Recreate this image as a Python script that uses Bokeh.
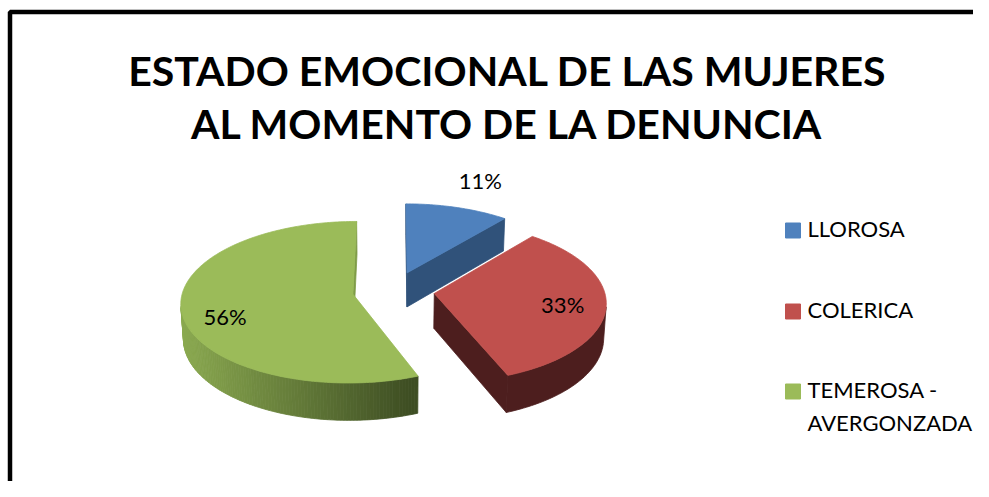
import numpy as np
from bokeh.plotting import figure
from bokeh.models import Range1d, ColumnDataSource
from bokeh.embed import file_html
from bokeh.resources import INLINE
from bokeh.core.properties import value

# ---------------- data ----------------
title_lines = ["ESTADO EMOCIONAL DE LAS MUJERES", "AL MOMENTO DE LA DENUNCIA"]
categories = ["LLOROSA", "COLERICA", "TEMEROSA - AVERGONZADA"]
percent = [11, 33, 56]
top_colors = ["#4F81BD", "#C0504D", "#9BBB59"]
side_colors = ["#30527A", "#4D1E1E", "#7F9C48"]
green_light = np.array([139, 170, 80])
green_dark = np.array([62, 78, 35])

# ---------------- 3D projection parameters ----------------
A = 170.0                 # pixels per radius at pie centre depth
S = 0.466                 # sin(elevation)
C = np.sqrt(1 - S * S)
Q = 0.10                  # perspective strength
DIST = C / Q
F = A * DIST
H = 0.233                 # thickness (in radii)
EXPL = 0.242              # explosion (in radii)
OX, OY = 393.0, 290.0
cam = np.array([0.0, DIST * S, DIST * C])


def proj(X, Y, Z):
    depth = DIST - Y * S - Z * C
    up = Y * C - Z * S
    return OX + F * X / depth, OY - F * up / depth


def d3(t):
    return np.array([np.sin(t), 0.0, -np.cos(t)])


def hexcol(c):
    return "#%02x%02x%02x" % tuple(int(round(v)) for v in c)


fr = np.array(percent, dtype=float) / sum(percent)
edges = np.concatenate([[0.0], np.cumsum(fr)]) * 2 * np.pi

W, HGT = 973, 481
p = figure(width=W, height=HGT, x_range=Range1d(0, W), y_range=Range1d(HGT, 0),
           output_backend="svg", toolbar_location=None, min_border=0)
p.axis.visible = False
p.grid.visible = False
p.outline_line_color = None
p.background_fill_color = "white"
p.border_fill_color = "white"

# frame of the chart area
p.line(x=[9.5, 9.5, 1000], y=[520, 11.5, 11.5], line_color="black", line_width=4.5)

slices = []
for i in range(len(percent)):
    t1, t2 = edges[i], edges[i + 1]
    m = 0.5 * (t1 + t2)
    cen = EXPL * d3(m)
    slices.append((cen[2], i, t1, t2, cen))
slices.sort()

DOWN = np.array([0, -H, 0])
xs_all, ys_all, fc_all = [], [], []


def add_poly(poly, colr):
    pts = [proj(*v) for v in poly]
    xs_all.append([pt[0] for pt in pts])
    ys_all.append([pt[1] for pt in pts])
    fc_all.append(colr)


for _, i, t1, t2, cen in slices:
    n = max(6, int(np.degrees(t2 - t1)))
    th = np.linspace(t1, t2, n)
    top = [cen + d3(t) for t in th]
    bot = [cen + d3(t) + DOWN for t in th]
    # radial faces
    for t, sgn in ((t1, -1), (t2, 1)):
        nrm = sgn * np.array([np.cos(t), 0.0, np.sin(t)])
        pmid = cen + 0.5 * d3(t) + DOWN / 2
        if np.dot(nrm, cam - pmid) > 0:
            add_poly([cen, cen + d3(t), cen + d3(t) + DOWN, cen + DOWN], side_colors[i])
    # outer rim: visible runs
    vis = []
    for j in range(n - 1):
        tm = 0.5 * (th[j] + th[j + 1])
        pmid = cen + d3(tm) + DOWN / 2
        vis.append(np.dot(d3(tm), cam - pmid) > 0)
    if i == 2:
        for j in range(n - 1):
            if vis[j]:
                tm = 0.5 * (th[j] + th[j + 1])
                sx = proj(*(cen + d3(tm)))[0]
                k = np.clip((sx - 177) / (409 - 177), 0, 1)
                add_poly([top[j], top[j + 1], bot[j + 1], bot[j]],
                         hexcol(green_light * (1 - k) + green_dark * k))
    else:
        idx = [j for j in range(n - 1) if vis[j]]
        if idx:
            j0, j1 = idx[0], idx[-1] + 1
            add_poly(top[j0:j1 + 1] + bot[j0:j1 + 1][::-1], side_colors[i])
    add_poly([cen] + top, top_colors[i])

src = ColumnDataSource(dict(xs=xs_all, ys=ys_all, fc=fc_all))
p.patches(xs="xs", ys="ys", fill_color="fc", line_color="fc", line_width=0.8, source=src)

# data labels
label_r = [1.42, 0.75, 0.76]
label_off = [(4, -3), (0, 2), (2, 11)]
lx, ly, lt = [], [], []
for i in range(len(percent)):
    t1, t2 = edges[i], edges[i + 1]
    m = 0.5 * (t1 + t2)
    cen = EXPL * d3(m)
    pt = proj(*(cen + label_r[i] * d3(m)))
    lx.append(pt[0] + label_off[i][0])
    ly.append(pt[1] + label_off[i][1])
    lt.append("%d%%" % percent[i])
p.text(x=lx, y=ly, text=lt, text_font=value("Lato"), text_font_size="22px",
       text_color="black", text_align="center", text_baseline="middle")

# title
p.text(x=[507, 507], y=[70, 123], text=title_lines,
       text_font=value("Lato"),
       text_font_size="41px", text_font_style="bold", text_color="black",
       text_align="center", text_baseline="alphabetic")

# legend
leg_y = [230, 311, 391]
p.scatter(x=[792.5] * 3, y=leg_y, marker="square", size=15, fill_color=top_colors,
          line_color=top_colors)
leg_text = [c.replace(" - ", " -\n") for c in categories]
tx, ty, tt = [], [], []
for yy, c in zip(leg_y, leg_text):
    for k, line in enumerate(c.split("\n")):
        tx.append(807)
        ty.append(yy - 2 + 33 * k)
        tt.append(line)
p.text(x=tx, y=ty, text=tt, text_font=value("Lato"), text_font_size="22px",
       text_color="black", text_align="left", text_baseline="alphabetic")

open("out.html", "w").write(file_html(p, INLINE))
